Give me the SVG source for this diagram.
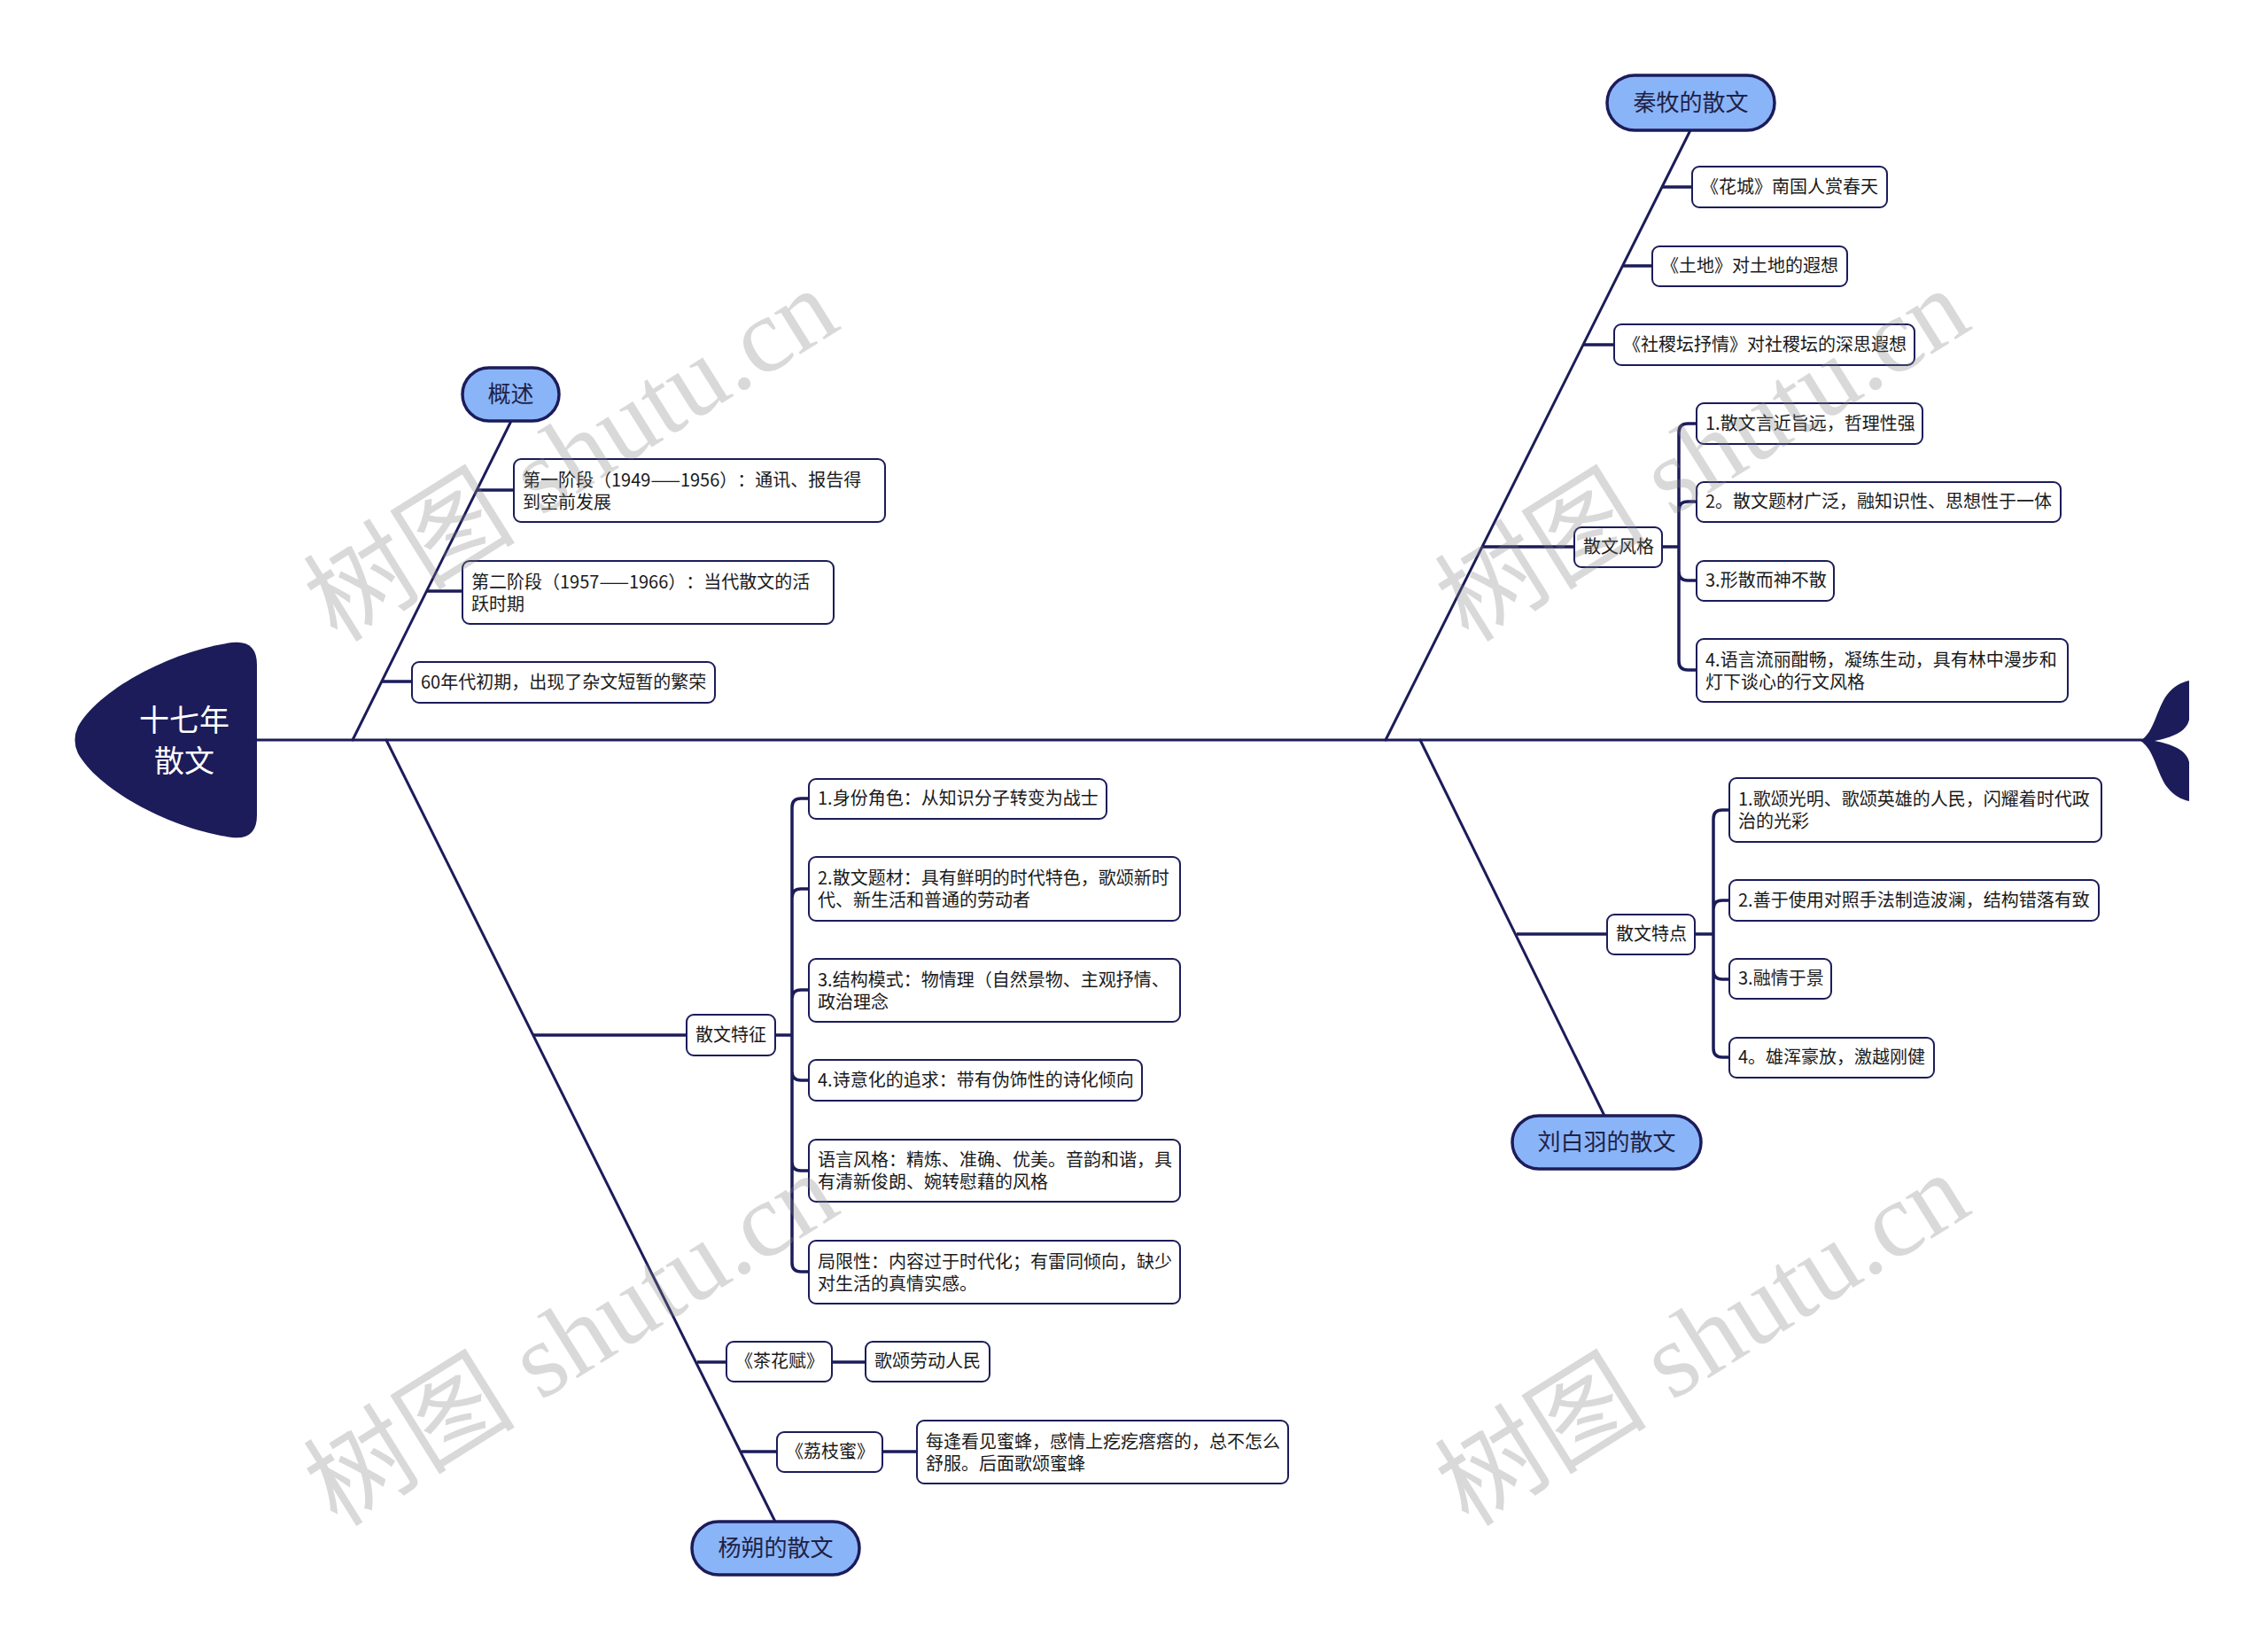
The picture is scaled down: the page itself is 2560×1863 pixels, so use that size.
<svg xmlns="http://www.w3.org/2000/svg" width="2560" height="1863" viewBox="0 0 2560 1863">
<style>
.bg{fill:#ffffff}
.ln{stroke:#1c1c5a;stroke-width:3;fill:none;stroke-linecap:round;stroke-linejoin:round}
.cn{stroke:#1c1c5a;stroke-width:3.5;fill:none;stroke-linejoin:round}
.box{fill:#ffffff;stroke:#1c1c5a;stroke-width:2}
.pill{fill:#8ab4f8;stroke:#1c1c5a;stroke-width:3.5}
text{text-spacing-trim:space-all}
.t{font-family:"Noto Sans CJK SC","Noto Sans",sans-serif;font-size:20px;fill:#1a1a1a}
.pt{font-family:"Noto Sans CJK SC","Noto Sans",sans-serif;font-size:26px;fill:#1e2246;text-anchor:middle}
.ht{font-family:"Noto Sans CJK SC","Noto Sans",sans-serif;font-size:34px;fill:#ffffff;text-anchor:middle}
.wm{font-family:"Liberation Serif","Noto Sans CJK SC",serif;font-size:120px;fill:#808080;fill-opacity:0.3;text-anchor:middle}
.fish{fill:#1c1c5a}
</style>
<rect class="bg" x="0" y="0" width="2560" height="1863"/>

<g id="connectors">
  <line class="ln" x1="290" y1="835" x2="2420" y2="835"/>
  <line class="ln" x1="398" y1="835" x2="577" y2="475"/>
  <line class="ln" x1="1564" y1="835" x2="1908" y2="147"/>
  <line class="ln" x1="1603" y1="835" x2="1811" y2="1259"/>
  <line class="ln" x1="436" y1="835" x2="875" y2="1717"/>
  <path class="cn" d="M539 553H580M482 667H522M431 769H465"/>
  <path class="cn" d="M1875 211H1910M1831 300H1865M1787 389H1822M1673 617H1777"/>
  <path class="cn" d="M1712 1054H1814"/>
  <path class="cn" d="M602 1168H775M787 1537H820M939 1537H977M837 1638H877M996 1638H1035"/>
  <path class="cn" d="M1876 617H1895V488Q1895 478 1905 478H1915M1895 617V576Q1895 566 1905 566H1915M1895 617V645Q1895 655 1905 655H1915M1895 617V746Q1895 756 1905 756H1915"/>
  <path class="cn" d="M1913 1054H1934V924Q1934 914 1944 914H1952M1934 1054V1026Q1934 1016 1944 1016H1952M1934 1054V1095Q1934 1105 1944 1105H1952M1934 1054V1183Q1934 1193 1944 1193H1952"/>
  <path class="cn" d="M875 1168H894V911Q894 901 904 901H913M894 1168V1013Q894 1003 904 1003H913M894 1168V1127Q894 1117 904 1117H913M894 1168V1209Q894 1219 904 1219H913M894 1168V1311Q894 1321 904 1321H913M894 1168V1425Q894 1435 904 1435H913"/>
</g>

<g id="head">
  <path class="fish" d="M290 750Q290 722 262 725C190 735 110 780 88 820Q81 835 88 850C110 890 190 935 262 945Q290 948 290 920Z"/>
  <text class="ht" x="208" y="825">十七年</text>
  <text class="ht" x="208" y="871">散文</text>
</g>

<g id="tail">
  <path class="fish" d="M2416 836C2432 826 2434 800 2446 784C2454 774 2462 770 2471 768L2471 812C2468 826 2452 832 2432 836Z"/>
  <path class="fish" d="M2416 836C2432 846 2434 872 2446 888C2454 898 2462 902 2471 904L2471 860C2468 846 2452 840 2432 836Z"/>
</g>

<g id="n-gaishu">
  <rect class="pill" x="522" y="415" width="109" height="60" rx="30"/>
  <text class="pt" x="576.5" y="454">概述</text>
</g>
<g id="n-gs1">
  <rect class="box" x="580" y="518" width="419" height="71" rx="8"/>
  <text class="t" x="590" y="549">第一阶段（1949——1956）：通讯、报告得</text>
  <text class="t" x="590" y="574">到空前发展</text>
</g>
<g id="n-gs2">
  <rect class="box" x="522" y="633" width="419" height="71" rx="8"/>
  <text class="t" x="532" y="664">第二阶段（1957——1966）：当代散文的活</text>
  <text class="t" x="532" y="689">跃时期</text>
</g>
<g id="n-gs3">
  <rect class="box" x="465" y="747" width="342" height="46" rx="8"/>
  <text class="t" x="475" y="777">60年代初期，出现了杂文短暂的繁荣</text>
</g>

<g id="n-qinmu">
  <rect class="pill" x="1814" y="85" width="189" height="62" rx="31"/>
  <text class="pt" x="1908.5" y="125">秦牧的散文</text>
</g>
<g id="n-qm1">
  <rect class="box" x="1910" y="188" width="220" height="46" rx="8"/>
  <text class="t" x="1920" y="218">《花城》南国人赏春天</text>
</g>
<g id="n-qm2">
  <rect class="box" x="1865" y="278" width="220" height="45" rx="8"/>
  <text class="t" x="1875" y="307">《土地》对土地的遐想</text>
</g>
<g id="n-qm3">
  <rect class="box" x="1822" y="366" width="339" height="46" rx="8"/>
  <text class="t" x="1832" y="396">《社稷坛抒情》对社稷坛的深思遐想</text>
</g>
<g id="n-qmfg">
  <rect class="box" x="1777" y="595" width="99" height="45" rx="8"/>
  <text class="t" x="1787" y="624">散文风格</text>
</g>
<g id="n-qmf1">
  <rect class="box" x="1915" y="455" width="255" height="46" rx="8"/>
  <text class="t" x="1925" y="485">1.散文言近旨远，哲理性强</text>
</g>
<g id="n-qmf2">
  <rect class="box" x="1915" y="544" width="411" height="45" rx="8"/>
  <text class="t" x="1925" y="573">2。散文题材广泛，融知识性、思想性于一体</text>
</g>
<g id="n-qmf3">
  <rect class="box" x="1915" y="633" width="155" height="45" rx="8"/>
  <text class="t" x="1925" y="662">3.形散而神不散</text>
</g>
<g id="n-qmf4">
  <rect class="box" x="1915" y="721" width="419" height="71" rx="8"/>
  <text class="t" x="1925" y="752">4.语言流丽酣畅，凝练生动，具有林中漫步和</text>
  <text class="t" x="1925" y="777">灯下谈心的行文风格</text>
</g>

<g id="n-liu">
  <rect class="pill" x="1707" y="1259" width="213" height="60" rx="30"/>
  <text class="pt" x="1813.5" y="1298">刘白羽的散文</text>
</g>
<g id="n-liutd">
  <rect class="box" x="1814" y="1032" width="99" height="45" rx="8"/>
  <text class="t" x="1824" y="1061">散文特点</text>
</g>
<g id="n-liu1">
  <rect class="box" x="1952" y="878" width="420" height="72" rx="8"/>
  <text class="t" x="1962" y="909">1.歌颂光明、歌颂英雄的人民，闪耀着时代政</text>
  <text class="t" x="1962" y="934">治的光彩</text>
</g>
<g id="n-liu2">
  <rect class="box" x="1952" y="993" width="417" height="46" rx="8"/>
  <text class="t" x="1962" y="1023">2.善于使用对照手法制造波澜，结构错落有致</text>
</g>
<g id="n-liu3">
  <rect class="box" x="1952" y="1082" width="115" height="45" rx="8"/>
  <text class="t" x="1962" y="1111">3.融情于景</text>
</g>
<g id="n-liu4">
  <rect class="box" x="1952" y="1171" width="231" height="45" rx="8"/>
  <text class="t" x="1962" y="1200">4。雄浑豪放，激越刚健</text>
</g>

<g id="n-yang">
  <rect class="pill" x="781" y="1717" width="189" height="60" rx="30"/>
  <text class="pt" x="875.5" y="1756">杨朔的散文</text>
</g>
<g id="n-yangtz">
  <rect class="box" x="775" y="1145" width="100" height="46" rx="8"/>
  <text class="t" x="785" y="1175">散文特征</text>
</g>
<g id="n-y1">
  <rect class="box" x="913" y="879" width="336" height="45" rx="8"/>
  <text class="t" x="923" y="908">1.身份角色：从知识分子转变为战士</text>
</g>
<g id="n-y2">
  <rect class="box" x="913" y="967" width="419" height="72" rx="8"/>
  <text class="t" x="923" y="998">2.散文题材：具有鲜明的时代特色，歌颂新时</text>
  <text class="t" x="923" y="1023">代、新生活和普通的劳动者</text>
</g>
<g id="n-y3">
  <rect class="box" x="913" y="1082" width="419" height="71" rx="8"/>
  <text class="t" x="923" y="1113">3.结构模式：物情理（自然景物、主观抒情、</text>
  <text class="t" x="923" y="1138">政治理念</text>
</g>
<g id="n-y4">
  <rect class="box" x="913" y="1196" width="376" height="46" rx="8"/>
  <text class="t" x="923" y="1226">4.诗意化的追求：带有伪饰性的诗化倾向</text>
</g>
<g id="n-y5">
  <rect class="box" x="913" y="1286" width="419" height="70" rx="8"/>
  <text class="t" x="923" y="1316">语言风格：精炼、准确、优美。音韵和谐，具</text>
  <text class="t" x="923" y="1341">有清新俊朗、婉转慰藉的风格</text>
</g>
<g id="n-y6">
  <rect class="box" x="913" y="1400" width="419" height="71" rx="8"/>
  <text class="t" x="923" y="1431">局限性：内容过于时代化；有雷同倾向，缺少</text>
  <text class="t" x="923" y="1456">对生活的真情实感。</text>
</g>
<g id="n-chahua">
  <rect class="box" x="820" y="1514" width="119" height="45" rx="8"/>
  <text class="t" x="830" y="1543">《茶花赋》</text>
</g>
<g id="n-chahua1">
  <rect class="box" x="977" y="1514" width="140" height="45" rx="8"/>
  <text class="t" x="987" y="1543">歌颂劳动人民</text>
</g>
<g id="n-lizhi">
  <rect class="box" x="877" y="1616" width="119" height="45" rx="8"/>
  <text class="t" x="887" y="1645">《荔枝蜜》</text>
</g>
<g id="n-lizhi1">
  <rect class="box" x="1035" y="1603" width="419" height="71" rx="8"/>
  <text class="t" x="1045" y="1634">每逢看见蜜蜂，感情上疙疙瘩瘩的，总不怎么</text>
  <text class="t" x="1045" y="1659">舒服。后面歌颂蜜蜂</text>
</g>

<g id="watermarks">
  <text class="wm" transform="translate(645 514) rotate(-32)" dy="40">树图 shutu.cn</text>
  <text class="wm" transform="translate(1922 514) rotate(-32)" dy="40">树图 shutu.cn</text>
  <text class="wm" transform="translate(645 1512) rotate(-32)" dy="40">树图 shutu.cn</text>
  <text class="wm" transform="translate(1922 1512) rotate(-32)" dy="40">树图 shutu.cn</text>
</g>
</svg>
